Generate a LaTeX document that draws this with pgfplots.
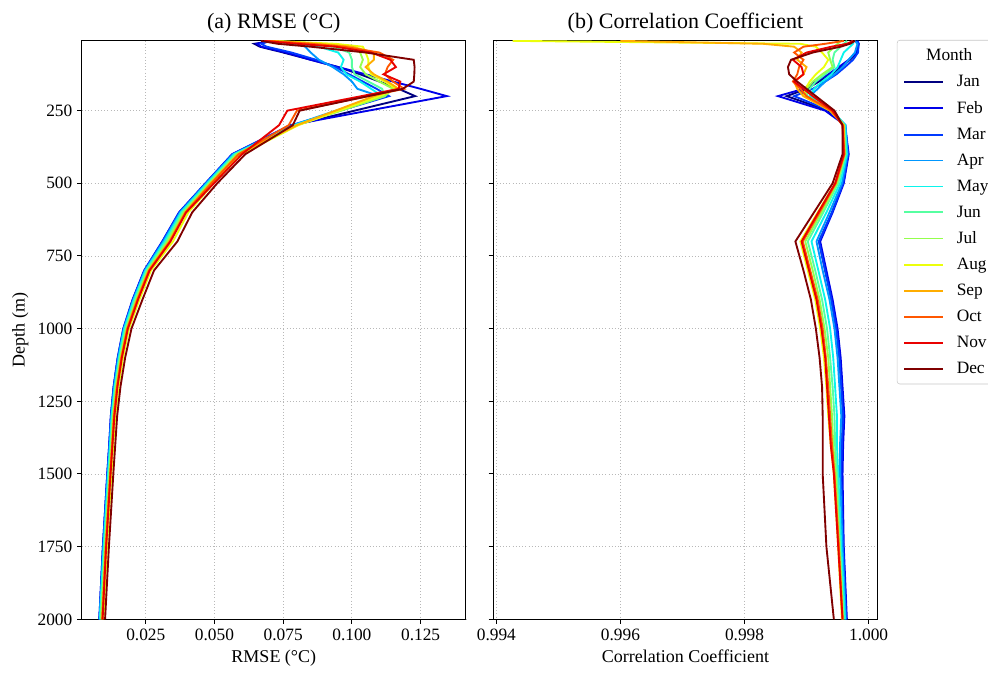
\documentclass[border=0pt]{standalone}
\usepackage{fontspec}
\setmainfont{Liberation Serif}
\usepackage{pgfplots}
\pgfplotsset{compat=1.18}
\definecolor{cJan}{rgb}{0,0,0.5}
\definecolor{cFeb}{rgb}{0,0,0.913}
\definecolor{cMar}{rgb}{0,0.227,1}
\definecolor{cApr}{rgb}{0,0.591,1}
\definecolor{cMay}{rgb}{0.044,0.955,0.924}
\definecolor{cJun}{rgb}{0.337,1,0.631}
\definecolor{cJul}{rgb}{0.58,1,0.3}
\definecolor{cAug}{rgb}{0.924,1,0.044}
\definecolor{cSep}{rgb}{1,0.677,0}
\definecolor{cOct}{rgb}{1,0.34,0}
\definecolor{cNov}{rgb}{0.913,0.003,0}
\definecolor{cDec}{rgb}{0.5,0,0}
\pgfplotsset{
 common/.style={
  scale only axis, width=288.2pt, height=434pt,
  y dir=reverse, ymin=9.2, ymax=2000,
  ytick={250,500,750,1000,1250,1500,1750,2000},
  grid=major, grid style={dotted, black!28, line width=0.7pt},
  axis line style={line width=0.75pt},
  tick align=outside, xtick pos=lower, ytick pos=left,
  major tick length=3.5pt, tick style={black, line width=0.75pt},
  tick label style={font=\fontsize{13}{15}\selectfont},
  label style={font=\fontsize{13.5}{16}\selectfont},
  title style={font=\fontsize{16.5}{19}\selectfont, yshift=-4pt},
  /pgf/number format/assume math mode=true,
  /pgf/number format/1000 sep={},
  scaled ticks=false,
  xticklabel style={/pgf/number format/.cd, fixed, fixed zerofill, precision=3},
  every axis plot/.append style={line width=1.4pt, mark=none},
 }
}
\begin{document}
\begin{tikzpicture}
\begin{axis}[common, at={(61.28pt,-464.48pt)}, anchor=south west,
  xmin=0.0017, xmax=0.1415,
  xtick={0.025,0.05,0.075,0.1,0.125},
  title={(a) RMSE (°C)}, xlabel={RMSE (°C)}, ylabel={Depth (m)}]
\addplot[cJan] coordinates {(0.0715,10)(0.0645,20)(0.0665,30)(0.075,50)(0.085,75)(0.095,100)(0.103,125)(0.110,150)(0.117,175)(0.123,200)(0.079,300)(0.0566,400)(0.0469,500)(0.0373,600)(0.0313,700)(0.0246,800)(0.0204,900)(0.0170,1000)(0.0149,1100)(0.0134,1200)(0.0124,1300)(0.0118,1400)(0.0111,1500)(0.0095,1750)(0.0082,2000)};
\addplot[cFeb] coordinates {(0.0700,10)(0.0655,20)(0.0670,30)(0.076,50)(0.085,75)(0.095,100)(0.105,125)(0.115,150)(0.125,175)(0.1345,200)(0.0775,300)(0.0564,400)(0.0467,500)(0.0371,600)(0.0310,700)(0.0244,800)(0.0202,900)(0.0168,1000)(0.0148,1100)(0.0133,1200)(0.0123,1300)(0.0117,1400)(0.0110,1500)(0.0094,1750)(0.0081,2000)};
\addplot[cMar] coordinates {(0.0705,10)(0.067,20)(0.069,30)(0.078,50)(0.087,75)(0.094,100)(0.099,125)(0.104,150)(0.109,175)(0.1135,200)(0.078,300)(0.0565,400)(0.0468,500)(0.0372,600)(0.0311,700)(0.0245,800)(0.0203,900)(0.0169,1000)(0.0148,1100)(0.0133,1200)(0.0123,1300)(0.0117,1400)(0.0110,1500)(0.0094,1750)(0.0081,2000)};
\addplot[cApr] coordinates {(0.071,10)(0.081,20)(0.083,30)(0.085,50)(0.088,75)(0.093,100)(0.097,125)(0.100,150)(0.102,175)(0.110,200)(0.0785,300)(0.0568,400)(0.0470,500)(0.0375,600)(0.0314,700)(0.0247,800)(0.0205,900)(0.0170,1000)(0.0150,1100)(0.0135,1200)(0.0125,1300)(0.0119,1400)(0.0112,1500)(0.0096,1750)(0.0082,2000)};
\addplot[cMay] coordinates {(0.072,10)(0.078,20)(0.088,30)(0.095,50)(0.097,75)(0.096,100)(0.098,125)(0.103,150)(0.107,175)(0.111,200)(0.079,300)(0.0571,400)(0.0473,500)(0.0378,600)(0.0318,700)(0.0249,800)(0.0207,900)(0.0172,1000)(0.0152,1100)(0.0137,1200)(0.0126,1300)(0.0120,1400)(0.0113,1500)(0.0097,1750)(0.0083,2000)};
\addplot[cJun] coordinates {(0.072,10)(0.083,20)(0.093,30)(0.099,50)(0.100,75)(0.100,100)(0.101,125)(0.106,150)(0.111,175)(0.112,200)(0.0795,300)(0.0576,400)(0.0478,500)(0.0383,600)(0.0324,700)(0.0253,800)(0.0211,900)(0.0176,1000)(0.0155,1100)(0.0139,1200)(0.0129,1300)(0.0123,1400)(0.0116,1500)(0.0100,1750)(0.0086,2000)};
\addplot[cJul] coordinates {(0.071,10)(0.090,20)(0.100,30)(0.103,50)(0.104,75)(0.103,100)(0.105,125)(0.110,150)(0.115,175)(0.112,200)(0.080,300)(0.0581,400)(0.0482,500)(0.0388,600)(0.0329,700)(0.0257,800)(0.0215,900)(0.0179,1000)(0.0157,1100)(0.0142,1200)(0.0131,1300)(0.0125,1400)(0.0118,1500)(0.0102,1750)(0.0088,2000)};
\addplot[cAug] coordinates {(0.071,10)(0.094,20)(0.104,30)(0.105,50)(0.106,75)(0.106,100)(0.107,125)(0.112,150)(0.116,175)(0.110,200)(0.0805,300)(0.0598,400)(0.0497,500)(0.0405,600)(0.0349,700)(0.0269,800)(0.0227,900)(0.0189,1000)(0.0167,1100)(0.0151,1200)(0.0139,1300)(0.0132,1400)(0.0125,1500)(0.0109,1750)(0.0096,2000)};
\addplot[cSep] coordinates {(0.070,10)(0.088,20)(0.100,30)(0.108,50)(0.108,75)(0.105,100)(0.108,125)(0.113,150)(0.117,175)(0.108,200)(0.080,300)(0.0586,400)(0.0486,500)(0.0393,600)(0.0335,700)(0.0260,800)(0.0218,900)(0.0182,1000)(0.0160,1100)(0.0144,1200)(0.0133,1300)(0.0127,1400)(0.0120,1500)(0.0104,1750)(0.0091,2000)};
\addplot[cOct] coordinates {(0.069,10)(0.085,20)(0.097,30)(0.110,50)(0.115,75)(0.113,100)(0.112,125)(0.115,150)(0.119,175)(0.080,250)(0.077,300)(0.0588,400)(0.0489,500)(0.0395,600)(0.0338,700)(0.0262,800)(0.0220,900)(0.0183,1000)(0.0162,1100)(0.0146,1200)(0.0135,1300)(0.0128,1400)(0.0121,1500)(0.0105,1750)(0.0092,2000)};
\addplot[cNov] coordinates {(0.068,10)(0.080,20)(0.094,30)(0.107,50)(0.114,75)(0.116,100)(0.1115,125)(0.1176,150)(0.117,175)(0.0765,250)(0.0735,300)(0.0600,400)(0.0498,500)(0.0397,600)(0.0340,700)(0.0264,800)(0.0222,900)(0.0185,1000)(0.0163,1100)(0.0147,1200)(0.0136,1300)(0.0129,1400)(0.0122,1500)(0.0106,1750)(0.0093,2000)};
\addplot[cDec] coordinates {(0.067,10)(0.073,20)(0.085,30)(0.105,50)(0.1225,75)(0.1228,100)(0.1227,125)(0.1225,150)(0.1185,175)(0.081,250)(0.0785,300)(0.0612,400)(0.0510,500)(0.0419,600)(0.0365,700)(0.0280,800)(0.0238,900)(0.0198,1000)(0.0175,1100)(0.0158,1200)(0.0146,1300)(0.0139,1400)(0.0132,1500)(0.0116,1750)(0.0102,2000)};
\end{axis}
\begin{axis}[common, at={(369.98pt,-464.48pt)}, anchor=south west,
  xmin=0.99395, xmax=1.000145,
  xtick={0.994,0.996,0.998,1.000}, yticklabels={},
  title={(b) Correlation Coefficient}, xlabel={Correlation Coefficient},
  legend cell align=left,
  legend image code/.code={\draw[#1] (0pt,0pt) -- (29pt,0pt);},
  legend style={at={(1,1)}, anchor=north west, xshift=14.5pt, yshift=0.5pt,
    draw=black!22, rounded corners=2pt, fill=white,
    font=\fontsize{13}{15}\selectfont, inner sep=4.5pt, row sep=5.4pt, column sep=7.8pt}]
\addlegendimage{empty legend}
\addlegendentry{\hspace*{-23pt}Month}
\addplot[cJan] coordinates {(0.99980,10)(0.99984,20)(0.99982,50)(0.99970,75)(0.99955,100)(0.99940,125)(0.99920,150)(0.99900,175)(0.99868,200)(0.99935,250)(0.99962,300)(0.99967,400)(0.99959,500)(0.99941,600)(0.99920,700)(0.99930,800)(0.99940,900)(0.99948,1000)(0.99953,1100)(0.99956,1200)(0.99959,1300)(0.99957,1400)(0.99956,1500)(0.99959,1750)(0.99964,2000)};
\addlegendentry{Jan}
\addplot[cFeb] coordinates {(0.99982,10)(0.99984,20)(0.99980,50)(0.99968,75)(0.99952,100)(0.99935,125)(0.99915,150)(0.99895,175)(0.99854,200)(0.99930,250)(0.99962,300)(0.99968,400)(0.99960,500)(0.99942,600)(0.99922,700)(0.99932,800)(0.99942,900)(0.99950,1000)(0.99955,1100)(0.99958,1200)(0.99961,1300)(0.99959,1400)(0.99958,1500)(0.99960,1750)(0.99965,2000)};
\addlegendentry{Feb}
\addplot[cMar] coordinates {(0.99982,10)(0.99984,20)(0.99983,50)(0.99975,75)(0.99962,100)(0.99948,125)(0.99930,150)(0.99910,175)(0.99880,200)(0.99938,250)(0.99962,300)(0.99967,400)(0.99959,500)(0.99941,600)(0.99920,700)(0.99930,800)(0.99940,900)(0.99948,1000)(0.99953,1100)(0.99956,1200)(0.99959,1300)(0.99957,1400)(0.99956,1500)(0.99959,1750)(0.99964,2000)};
\addlegendentry{Mar}
\addplot[cApr] coordinates {(0.99978,10)(0.99982,20)(0.99978,50)(0.99968,75)(0.99958,100)(0.99945,125)(0.99930,150)(0.99918,175)(0.99905,200)(0.99940,250)(0.99963,300)(0.99966,400)(0.99957,500)(0.99937,600)(0.99916,700)(0.99926,800)(0.99937,900)(0.99945,1000)(0.99950,1100)(0.99953,1200)(0.99956,1300)(0.99954,1400)(0.99954,1500)(0.99958,1750)(0.99963,2000)};
\addlegendentry{Apr}
\addplot[cMay] coordinates {(0.99972,10)(0.99975,20)(0.99960,50)(0.99955,75)(0.99950,100)(0.99940,125)(0.99925,150)(0.99912,175)(0.99905,200)(0.99942,250)(0.99962,300)(0.99965,400)(0.99954,500)(0.99932,600)(0.99908,700)(0.99919,800)(0.99930,900)(0.99938,1000)(0.99943,1100)(0.99946,1200)(0.99949,1300)(0.99949,1400)(0.99951,1500)(0.99956,1750)(0.99962,2000)};
\addlegendentry{May}
\addplot[cJun] coordinates {(0.99965,10)(0.99960,20)(0.99945,50)(0.99942,75)(0.99945,100)(0.99930,125)(0.99915,150)(0.99905,175)(0.99900,200)(0.99942,250)(0.99961,300)(0.99963,400)(0.99951,500)(0.99927,600)(0.99902,700)(0.99914,800)(0.99925,900)(0.99933,1000)(0.99938,1100)(0.99942,1200)(0.99945,1300)(0.99946,1400)(0.99949,1500)(0.99954,1750)(0.99960,2000)};
\addlegendentry{Jun}
\addplot[cJul] coordinates {(0.99955,10)(0.99950,20)(0.99935,50)(0.99938,75)(0.99942,100)(0.99925,125)(0.99910,150)(0.99900,175)(0.99898,200)(0.99940,250)(0.99960,300)(0.99962,400)(0.99949,500)(0.99924,600)(0.99898,700)(0.99910,800)(0.99921,900)(0.99929,1000)(0.99935,1100)(0.99938,1200)(0.99941,1300)(0.99943,1400)(0.99947,1500)(0.99953,1750)(0.99959,2000)};
\addlegendentry{Jul}
\addplot[cAug] coordinates {(0.99426,10)(0.99890,20)(0.99915,30)(0.99925,50)(0.99935,75)(0.99928,100)(0.99915,125)(0.99905,150)(0.99898,175)(0.99895,200)(0.99938,250)(0.99960,300)(0.99960,400)(0.99946,500)(0.99918,600)(0.99890,700)(0.99902,800)(0.99914,900)(0.99922,1000)(0.99928,1100)(0.99932,1200)(0.99935,1300)(0.99939,1400)(0.99944,1500)(0.99951,1750)(0.99957,2000)};
\addlegendentry{Aug}
\addplot[cSep] coordinates {(0.99600,10)(0.99830,20)(0.99880,30)(0.99892,50)(0.99885,75)(0.99900,100)(0.99895,125)(0.99880,150)(0.99885,175)(0.99895,200)(0.99938,250)(0.99960,300)(0.99961,400)(0.99947,500)(0.99920,600)(0.99893,700)(0.99905,800)(0.99917,900)(0.99925,1000)(0.99931,1100)(0.99934,1200)(0.99937,1300)(0.99940,1400)(0.99945,1500)(0.99952,1750)(0.99958,2000)};
\addlegendentry{Sep}
\addplot[cOct] coordinates {(0.99960,10)(0.99930,20)(0.99895,30)(0.99880,50)(0.99895,75)(0.99888,100)(0.99885,125)(0.99878,150)(0.99890,175)(0.99900,200)(0.99940,250)(0.99958,300)(0.99961,400)(0.99947,500)(0.99921,600)(0.99894,700)(0.99906,800)(0.99918,900)(0.99926,1000)(0.99931,1100)(0.99935,1200)(0.99938,1300)(0.99941,1400)(0.99945,1500)(0.99952,1750)(0.99958,2000)};
\addlegendentry{Oct}
\addplot[cNov] coordinates {(0.99975,10)(0.99965,20)(0.99940,30)(0.99900,50)(0.99878,75)(0.99892,100)(0.99895,125)(0.99880,150)(0.99895,175)(0.99910,200)(0.99942,250)(0.99958,300)(0.99960,400)(0.99946,500)(0.99919,600)(0.99892,700)(0.99904,800)(0.99916,900)(0.99924,1000)(0.99930,1100)(0.99933,1200)(0.99936,1300)(0.99939,1400)(0.99944,1500)(0.99951,1750)(0.99958,2000)};
\addlegendentry{Nov}
\addplot[cDec] coordinates {(0.99978,10)(0.99970,20)(0.99955,30)(0.99910,50)(0.99875,75)(0.99870,100)(0.99872,125)(0.99885,150)(0.99900,175)(0.99915,200)(0.99945,250)(0.99958,300)(0.99958,400)(0.99942,500)(0.99912,600)(0.99882,700)(0.99895,800)(0.99907,900)(0.99915,1000)(0.99921,1100)(0.99925,1200)(0.99926,1300)(0.99926,1400)(0.99926,1500)(0.99932,1750)(0.99944,2000)};
\addlegendentry{Dec}
\end{axis}
\pgfresetboundingbox
\path[use as bounding box] (0pt,0pt) rectangle (741pt,-504pt);
\end{tikzpicture}
\end{document}
